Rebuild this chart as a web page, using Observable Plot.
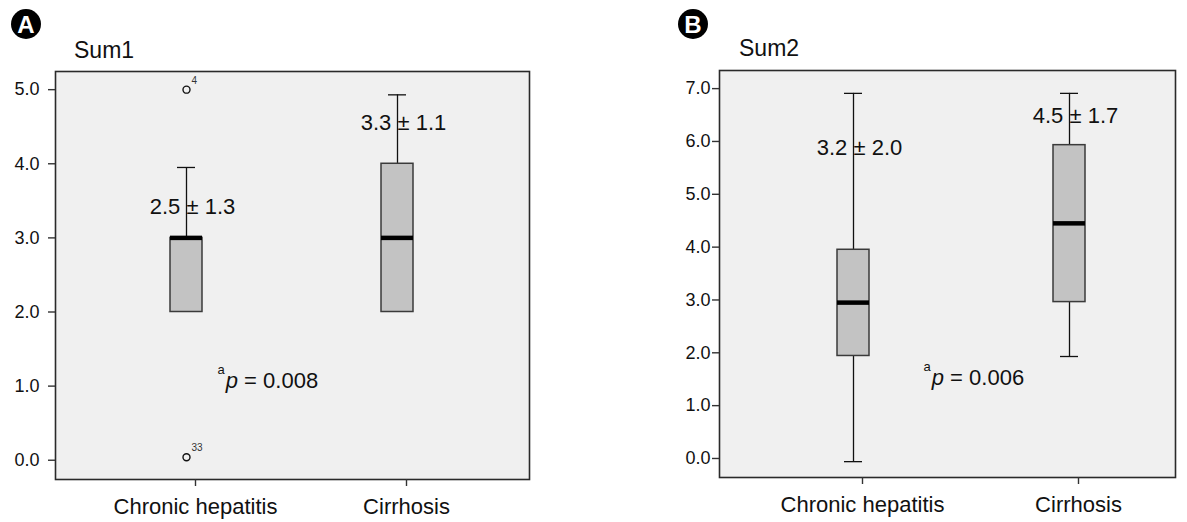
<!DOCTYPE html>
<html>
<head>
<meta charset="utf-8">
<script src="https://cdn.jsdelivr.net/npm/d3@7"></script>
<script src="https://cdn.jsdelivr.net/npm/@observablehq/plot@0.6"></script>
<style>
  body { margin: 0; background: #fff; font-family: "Liberation Sans", Arial, sans-serif; }
  #wrap { position: relative; width: 1187px; height: 522px; overflow: hidden; }
  .panel { position: absolute; top: 0; }
  .badge { position: absolute; width: 30px; height: 30px; border-radius: 50%; background: #000; color: #fff;
           font: bold 24px "Liberation Sans", Arial, sans-serif; line-height: 31px; text-align: center; }
  .title { position: absolute; font: 23px "Liberation Sans", Arial, sans-serif; line-height: 23px; color: #111; }
</style>
</head>
<body>
<div id="wrap">
  <div id="panelA" class="panel" style="left:0px"></div>
  <div id="panelB" class="panel" style="left:590px"></div>
  <div class="badge" style="left:11px;top:9px">A</div>
  <div class="title" style="left:74px;top:39px">Sum1</div>
  <div class="badge" style="left:678px;top:9px">B</div>
  <div class="title" style="left:739px;top:37px">Sum2</div>
</div>
<script>
// ---------- data ----------
const groups = ["Chronic hepatitis", "Cirrhosis"];

// Panel A: Sum1
const sum1Low    = [2.0, 2.0];
const sum1Q1     = [2.0, 2.0];
const sum1Median = [3.0, 3.0];
const sum1Q3     = [3.0, 4.0];
const sum1High   = [3.95, 4.93];
const sum1Mean   = [2.5, 3.3];
const sum1SD     = [1.3, 1.1];
const sum1LabelY = [3.32, 4.45];
const sum1OutlierGroup = ["Chronic hepatitis", "Chronic hepatitis"];
const sum1OutlierValue = [5.0, 0.04];
const sum1OutlierId    = ["4", "33"];
const sum1Ticks = [0, 1, 2, 3, 4, 5];
const sum1P = "0.008";
const sum1PY = 0.98;

// Panel B: Sum2
const sum2Low    = [-0.06, 1.93];
const sum2Q1     = [1.94, 2.96];
const sum2Median = [2.95, 4.45];
const sum2Q3     = [3.95, 5.93];
const sum2High   = [6.91, 6.91];
const sum2Mean   = [3.2, 4.5];
const sum2SD     = [2.0, 1.7];
const sum2LabelY = [5.75, 6.34];
const sum2Ticks = [0, 1, 2, 3, 4, 5, 6, 7];
const sum2P = "0.006";
const sum2PY = 1.40;

// ---------- build ----------
function table(low, q1, med, q3, high, mean, sd, ly) {
  return groups.map((g, i) => ({group: g, low: low[i], q1: q1[i], median: med[i], q3: q3[i], high: high[i],
    label: `${mean[i].toFixed(1)} \u00b1 ${sd[i].toFixed(1)}`, ly: ly[i]}));
}

const fontFamily = '"Liberation Sans", Arial, sans-serif';

function panel(opts) {
  const {data, outliers, ticks, pText, pY, pDx, yDomain, width, margins, xScale, yTickPadding} = opts;
  const marks = [
    Plot.frame({fill: "#f0f0f0"}),
    Plot.ruleX(data, {x: "group", y1: "q3", y2: "high", stroke: "#111", strokeWidth: 1.3}),
    Plot.ruleX(data, {x: "group", y1: "low", y2: "q1", stroke: "#111", strokeWidth: 1.3}),
    Plot.tickY(data, {x: "group", y: "high", stroke: "#111", strokeWidth: 1.3, insetLeft: 7, insetRight: 7}),
    Plot.tickY(data.filter(d => d.low < d.q1), {x: "group", y: "low", stroke: "#111", strokeWidth: 1.3, insetLeft: 7, insetRight: 7}),
    Plot.barY(data, {x: "group", y1: "q1", y2: "q3", fill: "#c3c3c3", stroke: "#3a3a3a", strokeWidth: 1.5}),
    Plot.tickY(data, {x: "group", y: "median", stroke: "#000", strokeWidth: 4.5}),
    Plot.text(data, {x: "group", y: "ly", text: "label", fontSize: 22, dx: 6, lineAnchor: "bottom", fill: "#111"}),
    Plot.dot(outliers, {x: "group", y: "value", r: 3.5, stroke: "#111", strokeWidth: 1.4, fill: "none"}),
    Plot.text(outliers, {x: "group", y: "value", text: "id", fontSize: 10, dx: 5, dy: -6, textAnchor: "start", lineAnchor: "bottom", fill: "#333"}),
    Plot.text([pText], {x: () => groups[0], y: () => pY, text: d => d, fontSize: 22, dx: pDx, textAnchor: "start", lineAnchor: "bottom", fill: "#111"}),
    Plot.frame({stroke: "#2a2a2a", strokeWidth: 1.6}),
    Plot.axisY({ticks, tickFormat: d3.format(".1f"), tickSize: 7, tickPadding: yTickPadding, fontSize: 18, stroke: "#333", strokeWidth: 1.4, fill: "#111"}),
    Plot.axisX({tickSize: 7, tickPadding: 12, fontSize: 22, dx: 9, stroke: "#333", strokeWidth: 1.4, fill: "#111"})
  ];
  const svg = Plot.plot({
    width, height: 522,
    marginLeft: margins[0], marginRight: margins[1], marginTop: margins[2], marginBottom: margins[3],
    style: {fontFamily, background: "transparent", color: "#111", overflow: "visible"},
    x: Object.assign({type: "band", domain: groups, label: null}, xScale),
    y: {domain: yDomain, label: null},
    marks
  });
  // style the p-value annotation: superscript "a", italic p
  svg.querySelectorAll("text").forEach(t => {
    if (t.textContent === pText) {
      const rest = pText.slice(2);
      t.textContent = "";
      const ns = "http://www.w3.org/2000/svg";
      const a = document.createElementNS(ns, "tspan");
      a.setAttribute("font-size", "13");
      a.setAttribute("dy", "-14");
      a.textContent = "a";
      const p = document.createElementNS(ns, "tspan");
      p.setAttribute("font-style", "italic");
      p.setAttribute("dy", "14");
      p.setAttribute("dx", "1");
      p.textContent = "p";
      const r = document.createElementNS(ns, "tspan");
      r.textContent = rest;
      t.append(a, p, r);
    }
  });
  return svg;
}

const dataA = table(sum1Low, sum1Q1, sum1Median, sum1Q3, sum1High, sum1Mean, sum1SD, sum1LabelY);
const outA = sum1OutlierValue.map((v, i) => ({group: sum1OutlierGroup[i], value: v, id: sum1OutlierId[i]}));
const dataB = table(sum2Low, sum2Q1, sum2Median, sum2Q3, sum2High, sum2Mean, sum2SD, sum2LabelY);

document.getElementById("panelA").append(panel({
  data: dataA, outliers: outA, ticks: sum1Ticks, pText: "ap = " + sum1P, pY: sum1PY, pDx: 31,
  yDomain: [-0.26, 5.245], width: 590, margins: [55, 61, 71, 43],
  xScale: {paddingInner: 0.846, paddingOuter: 0.541, align: 0.5}, yTickPadding: 9
}));
document.getElementById("panelB").append(panel({
  data: dataB, outliers: [], ticks: sum2Ticks, pText: "ap = " + sum2P, pY: sum2PY, pDx: 70,
  yDomain: [-0.36, 7.343], width: 597, margins: [129, 12, 70, 45],
  xScale: {paddingInner: 0.8525, paddingOuter: 0.477, align: 0.565}, yTickPadding: 2
}));
</script>
</body>
</html>
